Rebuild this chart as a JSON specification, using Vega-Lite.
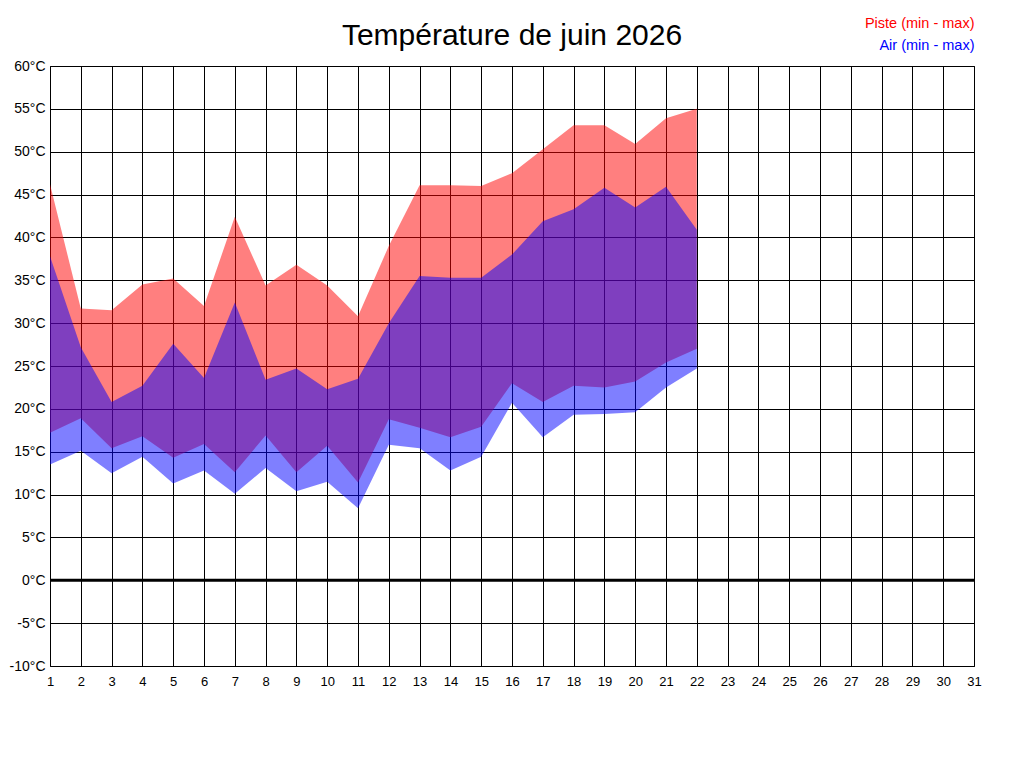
{
  "$schema": "https://vega.github.io/schema/vega-lite/v6.json",
  "autosize": "none",
  "width": 924,
  "height": 600,
  "padding": {"left": 50, "top": 66, "right": 50, "bottom": 102},
  "background": "white",
  "title": {
    "text": "Température de juin 2026",
    "font": "Liberation Sans",
    "fontSize": 30,
    "fontWeight": "normal",
    "color": "black",
    "anchor": "middle",
    "baseline": "alphabetic",
    "offset": 16,
    "dy": 74
  },
  "data": {
    "values": [
      {"day": 1, "piste_max": 46.2, "piste_min": 17.2, "air_max": 37.8, "air_min": 13.5},
      {"day": 2, "piste_max": 31.7, "piste_min": 18.9, "air_max": 27.2, "air_min": 15.1},
      {"day": 3, "piste_max": 31.5, "piste_min": 15.4, "air_max": 20.8, "air_min": 12.5},
      {"day": 4, "piste_max": 34.5, "piste_min": 16.8, "air_max": 22.7, "air_min": 14.4},
      {"day": 5, "piste_max": 35.2, "piste_min": 14.3, "air_max": 27.6, "air_min": 11.3},
      {"day": 6, "piste_max": 32.0, "piste_min": 15.9, "air_max": 23.6, "air_min": 12.8},
      {"day": 7, "piste_max": 42.4, "piste_min": 12.6, "air_max": 32.4, "air_min": 10.1},
      {"day": 8, "piste_max": 34.4, "piste_min": 16.9, "air_max": 23.4, "air_min": 13.1},
      {"day": 9, "piste_max": 36.8, "piste_min": 12.6, "air_max": 24.7, "air_min": 10.4},
      {"day": 10, "piste_max": 34.4, "piste_min": 15.7, "air_max": 22.3, "air_min": 11.5},
      {"day": 11, "piste_max": 30.8, "piste_min": 11.4, "air_max": 23.5, "air_min": 8.4},
      {"day": 12, "piste_max": 39.0, "piste_min": 18.8, "air_max": 30.0, "air_min": 15.8},
      {"day": 13, "piste_max": 46.1, "piste_min": 17.8, "air_max": 35.5, "air_min": 15.4},
      {"day": 14, "piste_max": 46.1, "piste_min": 16.7, "air_max": 35.3, "air_min": 12.8},
      {"day": 15, "piste_max": 46.0, "piste_min": 17.9, "air_max": 35.3, "air_min": 14.4},
      {"day": 16, "piste_max": 47.5, "piste_min": 23.0, "air_max": 38.0, "air_min": 20.7},
      {"day": 17, "piste_max": 50.3, "piste_min": 20.8, "air_max": 41.9, "air_min": 16.7},
      {"day": 18, "piste_max": 53.1, "piste_min": 22.7, "air_max": 43.3, "air_min": 19.3},
      {"day": 19, "piste_max": 53.1, "piste_min": 22.5, "air_max": 45.8, "air_min": 19.4},
      {"day": 20, "piste_max": 50.9, "piste_min": 23.2, "air_max": 43.5, "air_min": 19.6},
      {"day": 21, "piste_max": 53.9, "piste_min": 25.4, "air_max": 45.9, "air_min": 22.5},
      {"day": 22, "piste_max": 55.0, "piste_min": 27.0, "air_max": 40.9, "air_min": 24.7}
    ]
  },
  "layer": [
    {
      "mark": {"type": "area", "opacity": 0.5, "interpolate": "linear"},
      "encoding": {
        "x": {
          "field": "day",
          "type": "quantitative",
          "scale": {"domain": [1, 31], "nice": false, "zero": false},
          "axis": {
            "title": null,
            "values": [1,2,3,4,5,6,7,8,9,10,11,12,13,14,15,16,17,18,19,20,21,22,23,24,25,26,27,28,29,30,31],
            "format": "d",
            "grid": true,
            "ticks": false,
            "domain": false,
            "labelPadding": 9,
            "labelFontSize": 13,
            "labelFlush": false,
            "labelOverlap": false
          }
        },
        "y": {
          "field": "piste_max",
          "type": "quantitative",
          "scale": {"domain": [-10, 60], "nice": false, "zero": false},
          "axis": {
            "title": null,
            "values": [-10,-5,0,5,10,15,20,25,30,35,40,45,50,55,60],
            "labelExpr": "datum.value + '°C'",
            "grid": true,
            "ticks": false,
            "domain": false,
            "labelPadding": 5,
            "labelFontSize": 14,
            "labelOverlap": false,
            "labelFlush": false
          }
        },
        "y2": {"field": "piste_min"},
        "color": {
          "datum": "Piste (min - max)",
          "type": "nominal",
          "scale": {"domain": ["Piste (min - max)", "Air (min - max)"], "range": ["#ff0000", "#0000ff"]},
          "legend": {
            "title": null,
            "orient": "none",
            "legendX": 906,
            "legendY": -49,
            "symbolOpacity": 0,
            "symbolSize": 0,
            "symbolStrokeWidth": 0,
            "labelAlign": "right",
            "labelFontSize": 14.5,
            "labelFont": "Liberation Sans",
            "rowPadding": 7,
            "encode": {
              "labels": {
                "update": {
                  "fill": {"signal": "datum.value === 'Air (min - max)' ? '#0000ff' : '#ff0000'"}
                }
              }
            }
          }
        }
      }
    },
    {
      "mark": {"type": "area", "opacity": 0.5, "interpolate": "linear"},
      "encoding": {
        "x": {
          "field": "day",
          "type": "quantitative",
          "axis": {
            "title": null,
            "values": [1,2,3,4,5,6,7,8,9,10,11,12,13,14,15,16,17,18,19,20,21,22,23,24,25,26,27,28,29,30,31],
            "format": "d",
            "grid": true,
            "ticks": false,
            "domain": false,
            "labelPadding": 9,
            "labelFontSize": 13,
            "labelFlush": false,
            "labelOverlap": false
          }
        },
        "y": {"field": "air_max", "type": "quantitative"},
        "y2": {"field": "air_min"},
        "color": {"datum": "Air (min - max)", "type": "nominal"}
      }
    },
    {
      "data": {"values": [{"temp": 0}]},
      "mark": {"type": "rule", "color": "black", "strokeWidth": 3},
      "encoding": {
        "y": {"field": "temp", "type": "quantitative"}
      }
    }
  ],
  "config": {
    "font": "Liberation Sans",
    "view": {"stroke": "black", "strokeWidth": 1},
    "axis": {
      "gridColor": "black",
      "gridOpacity": 1,
      "gridWidth": 1,
      "labelColor": "black",
      "labelFont": "Liberation Sans"
    }
  }
}
